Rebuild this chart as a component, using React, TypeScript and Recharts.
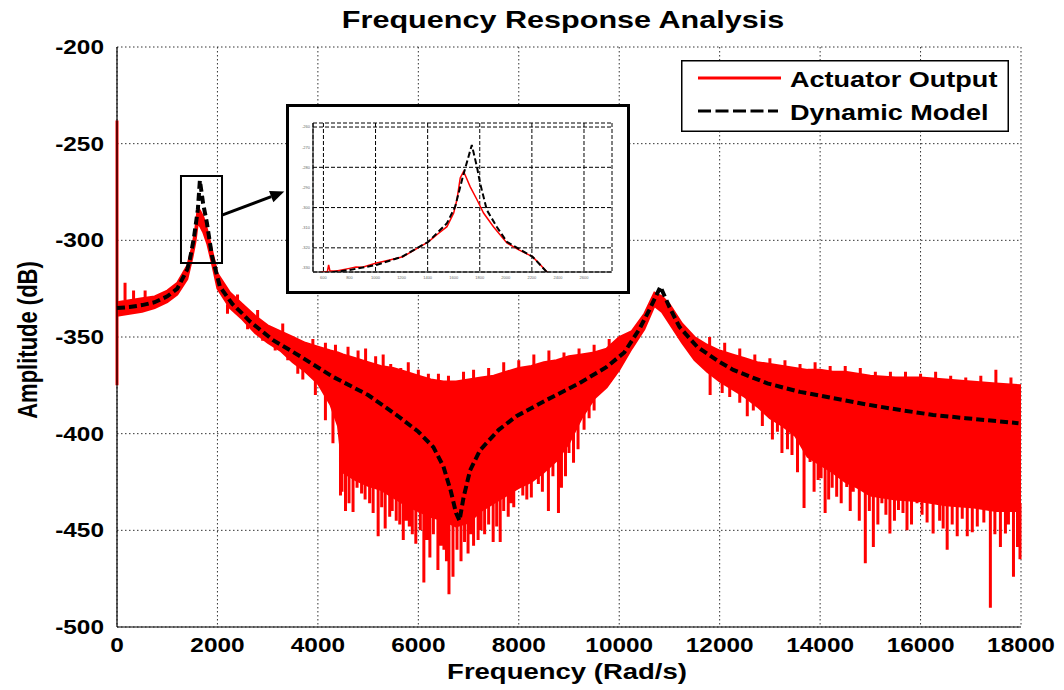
import {
  ComposedChart,
  Area,
  Line,
  XAxis,
  YAxis,
  CartesianGrid,
  ReferenceArea,
  ReferenceLine,
  Legend,
} from "recharts";

// --- Data ---

const FREQ_TICKS = [0, 2000, 4000, 6000, 8000, 10000, 12000, 14000, 16000, 18000];
const AMP_TICKS = [-500, -450, -400, -350, -300, -250, -200];

// solid part of the measured (red) response: upper / lower edge
const bandFreq = [
  0, 250, 500, 750, 1000, 1200, 1400, 1500, 1560, 1610,
  1660, 1720, 1800, 1900, 2000, 2250, 2500, 2750, 3000, 3250,
  3500, 3750, 4000, 4250, 4400, 4500, 4750, 5000, 5250, 5500,
  5750, 6000, 6250, 6500, 6750, 7000, 7250, 7500, 7750, 8000,
  8250, 8500, 8750, 9000, 9250, 9500, 9750, 10000, 10250, 10500,
  10700, 10850, 11000, 11250, 11500, 11750, 12000, 12250, 12500, 12750,
  13000, 13250, 13500, 13750, 14000, 14250, 14500, 14750, 15000, 15500,
  16000, 16500, 17000, 17500, 18000,
];
const bandHigh = [
  -332, -331, -330, -329, -326, -322, -313, -303, -294, -283,
  -285, -288, -295, -306, -317, -327, -333, -339, -344, -347,
  -350, -353, -355, -357, -358, -359, -361, -363, -365, -366,
  -368, -370, -372, -373, -373, -372, -371, -370, -368, -366,
  -365, -363, -362, -360, -359, -358, -356, -350, -347, -338,
  -327, -329, -333, -343, -350, -354, -357, -359, -361, -363,
  -364, -365, -366, -367, -367, -368, -368, -369, -370, -371,
  -371, -372, -373, -374, -375,
];
const bandLow = [
  -339, -338, -337, -335, -332, -328, -320, -309, -301, -291,
  -293, -296, -302, -313, -325, -335, -341, -348, -353, -357,
  -363, -368, -374, -385, -396, -420, -424, -427, -429, -433,
  -437, -440, -443, -445, -448, -446, -440, -436, -432, -428,
  -425, -420, -414, -405, -392, -382, -376, -367, -356, -346,
  -334, -337, -343, -353, -362, -368, -373, -377, -381, -386,
  -392, -396, -401, -412, -416, -420, -425, -428, -432, -434,
  -435, -437, -438, -440, -440,
];

// deep isolated spikes of the measured response: frequency, start, end
const spikeFreq = [
  0, 160, 330, 560,
  3700, 3950, 4150, 4300, 4450, 4550, 4700, 4870, 5030, 5200,
  5340, 5430, 5560, 5700, 5820, 5950, 6110, 6230, 6390, 6510,
  6610, 6690, 6850, 6990, 7100, 7190, 7320, 7490, 7630, 7790,
  7900, 8160, 8390, 8590, 8790, 8930, 9090, 9300, 9500,
  11810, 12200, 12670, 13240, 13440, 13680, 13800, 13960, 14100, 14240,
  14330, 14530, 14660, 14900, 15060, 15230, 15390, 15560, 15730, 15930,
  16130, 16250, 16530, 16730, 16930, 17130, 17390, 17590, 17690, 17850,
  17930,
];
const spikeTop = [
  -238, -331, -331, -330,
  -360, -362, -365, -370, -372, -380, -380, -385, -385, -390,
  -390, -392, -392, -395, -395, -398, -402, -405, -410, -415,
  -425, -430, -440, -425, -420, -412, -410, -402, -398, -395,
  -393, -388, -385, -383, -380, -378, -376, -372, -370,
  -362, -368, -372, -380, -382, -385, -385, -388, -388, -390,
  -390, -392, -392, -395, -395, -395, -396, -396, -397, -397,
  -398, -398, -399, -399, -400, -400, -400, -401, -401, -401,
  -401,
];
const spikeBottom = [
  -375, -322, -326, -326,
  -372, -380, -393, -405, -432, -440, -440.5, -431, -436, -453,
  -449, -443, -445, -455, -448, -457, -477, -464, -470.5, -460,
  -483, -474, -466, -462, -458, -455, -452, -456, -456, -443,
  -438, -434, -426, -440, -441, -422, -415, -398, -388,
  -380, -381, -388, -410, -411, -438.5, -414.6, -424, -441, -428,
  -432.6, -427.6, -430, -467, -458.6, -436, -451.6, -439.5, -450, -436,
  -446, -451.6, -460, -453, -453, -448, -490, -458.6, -451.6, -474,
  -458.6,
];

// smaller ragged noise on both edges of the band: frequency, base, tip
const noiseFreq = [
  // shoulder after the first resonance
  2200, 2400, 2600, 2800, 2900, 3150, 3300, 3400, 3600,
  // valley, upper edge
  3900, 4150, 4350, 4600, 4800, 4950, 5150, 5300, 5450, 5650,
  5800, 6000, 6200, 6400, 6600, 6900, 7100, 7400, 7700, 8000,
  8300, 8600, 8900, 9200, 9500, 9800,
  // valley, lower edge
  4480, 4620, 4780, 4940, 5100, 5270, 5480, 5630, 5760, 5880,
  6040, 6170, 6300, 6450, 6560, 6770, 6920, 7050, 7250, 7400,
  7560, 7700, 7850, 8080, 8250, 8470, 8680, 8850, 9000, 9180,
  9400,
  // high band, upper edge
  11800, 12100, 12400, 12700, 13000, 13300, 13600, 13900, 14200, 14500,
  14800, 15100, 15400, 15700, 16000, 16300, 16600, 16900, 17200, 17500,
  17800,
  // high band, lower edge
  12050, 12400, 12550, 12850, 13050, 13150, 13350, 13550, 13880, 14020,
  14170, 14420, 14600, 14780, 14980, 15150, 15310, 15480, 15650, 15820,
  16030, 16380, 16450, 16630, 16830, 17030, 17260, 17480, 17750, 17980,
];
const noiseBase = [
  -333, -333, -340, -342, -348, -350, -348, -355, -360,
  -358, -360, -361, -364, -366, -367, -369, -369, -371, -373,
  -374, -375, -377, -378, -378, -377, -376, -375, -372, -370,
  -369, -367, -366, -364, -362, -360,
  -415, -418, -420, -422, -424, -425, -428, -430, -432, -434,
  -436, -438, -440, -441, -443, -445, -444, -442, -436, -433,
  -430, -428, -426, -423, -420, -416, -410, -408, -400, -390,
  -382,
  -358, -362, -366, -368, -370, -371, -372, -372, -374, -374,
  -375, -376, -377, -378, -378, -378, -379, -380, -380, -380,
  -381,
  -370, -376, -378, -384, -388, -390, -394, -398, -408, -410,
  -412, -416, -420, -424, -427, -429, -430, -430, -430, -431,
  -431, -432, -432, -433, -433, -434, -435, -436, -436, -436,
];
const noiseTip = [
  -338, -328, -346, -336, -352, -357, -343, -362, -369,
  -351, -353, -354, -355, -357, -356, -360, -359, -364, -366,
  -363, -367, -369, -369, -370, -368, -367, -366, -363, -362,
  -359, -357, -358, -356, -354, -351,
  -430, -436, -428, -434, -441, -438, -440, -447, -445, -452,
  -450, -455, -452, -458, -466, -460, -456, -452, -450, -447,
  -448, -440, -436, -432, -433, -430, -422, -428, -410, -408,
  -392,
  -350, -353, -356, -359, -361, -362, -364, -363, -365, -365,
  -366, -368, -368, -368, -369, -368, -370, -371, -370, -367,
  -371,
  -379, -384, -391, -396, -403, -399, -408, -420, -430, -423,
  -434, -436, -440, -445, -440, -447, -442, -445, -441, -447,
  -442, -445, -449, -447, -444, -451, -446, -452, -447, -465,
];

// dynamic model (black dashed)
const modelFreq = [
  0, 250, 500, 750, 1000, 1200, 1400, 1450, 1530, 1610,
  1650, 1715, 1790, 1890, 2050, 2300, 2500, 2650, 3100, 3650,
  4300, 5000, 5600, 6000, 6300, 6500, 6650, 6750, 6820, 6900,
  7030, 7230, 7600, 7950, 8550, 9200, 9750, 10100, 10400, 10600,
  10820, 11000, 11200, 11550, 12000, 12270, 12950, 13600, 14250, 14950,
  15600, 16250, 16900, 17950,
];
const modelAmp = [
  -335, -334.5, -333.5, -332, -329, -325, -315, -310, -299, -284,
  -269, -281, -291, -308, -324, -333, -338, -342, -351.5, -360,
  -370.6, -380, -391, -399, -407, -417, -430, -441, -445, -433,
  -419, -408.5, -398, -391, -382.6, -374, -365.5, -358, -346, -336,
  -324, -334.5, -344.8, -355, -363, -367, -374, -378.4, -381.6, -385,
  -387.8, -390.3, -392, -394.6,
];

// zoomed inset around the first resonance
const INSET_X_TICKS = [600, 800, 1000, 1200, 1400, 1600, 1800, 2000, 2200, 2400, 2600];
const INSET_Y_TICKS = [-330, -320, -310, -300, -290, -280, -270, -260];
const insetActFreq = [
  520, 600, 630, 640, 650, 700, 800, 850, 900, 1000,
  1100, 1210, 1300, 1405, 1480, 1548, 1600, 1625, 1650, 1675,
  1688, 1726, 1778, 1829, 1905, 2008, 2100, 2205, 2260, 2315, 2340,
];
const insetActAmp = [
  -333, -332, -332, -328.5, -331.5, -331.5, -330.2, -329.5, -329.6, -327.7,
  -326.2, -324.4, -321, -317, -313, -309.5, -302.7, -296, -285.3, -282.2,
  -283.8, -289.6, -296, -302.7, -309.5, -317.6, -321, -324.4, -328, -332, -333,
];
const insetModelFreq = [
  600, 679, 800, 1006, 1200, 1405, 1548, 1611, 1670, 1739,
  1778, 1803, 1854, 1930, 2008, 2205, 2315, 2340,
];
const insetModelAmp = [
  -334, -332, -331, -328.5, -324.5, -317, -307.8, -299.6, -284.7, -268.9,
  -279.7, -288, -301.2, -309.5, -317, -324.4, -332, -333,
];

// --- Series tables ---

const bandData = bandFreq.map((f, i) => ({ f, range: [bandLow[i], bandHigh[i]] }));
const spikeData = [
  ...spikeFreq.flatMap((f, i) => [
    { f, spike: spikeTop[i] },
    { f, spike: spikeBottom[i] },
    { f, spike: null },
  ]),
  ...noiseFreq.flatMap((f, i) => [
    { f, spike: noiseBase[i] },
    { f, spike: noiseTip[i] },
    { f, spike: null },
  ]),
];
const modelData = modelFreq.map((f, i) => ({ f, model: modelAmp[i] }));
const insetActData = insetActFreq.map((f, i) => ({ f, act: insetActAmp[i] }));
const insetModelData = insetModelFreq.map((f, i) => ({ f, model: insetModelAmp[i] }));

const FONT = '"Liberation Sans", Arial, Helvetica, sans-serif';
const RED = "#ff0000";

// text in the reference is stretched horizontally
const XTick = ({ x, y, payload }: any) => (
  <g transform={`translate(${x},${y})`}>
    <text
      textAnchor="middle"
      dy={14.5}
      transform="scale(1.22,1)"
      fontSize={20}
      fontWeight="bold"
      fontFamily={FONT}
      fill="#000"
    >
      {payload.value}
    </text>
  </g>
);

const YTick = ({ x, y, payload }: any) => (
  <g transform={`translate(${x},${y})`}>
    <text
      textAnchor="end"
      dy={7}
      transform="scale(1.22,1)"
      fontSize={20}
      fontWeight="bold"
      fontFamily={FONT}
      fill="#000"
    >
      {payload.value}
    </text>
  </g>
);

const ArrowShape = (props: any) => {
  const { x1, y1, x2, y2 } = props;
  if ([x1, y1, x2, y2].some((v) => typeof v !== "number")) return <g />;
  const ang = Math.atan2(y2 - y1, x2 - x1);
  const len = 14;
  const hw = 6;
  const bx = x2 - len * Math.cos(ang);
  const by = y2 - len * Math.sin(ang);
  const px = -Math.sin(ang) * hw;
  const py = Math.cos(ang) * hw;
  return (
    <g>
      <line x1={x1} y1={y1} x2={bx} y2={by} stroke="#000" strokeWidth={3} />
      <polygon
        points={`${x2},${y2} ${bx + px},${by + py} ${bx - px},${by - py}`}
        fill="#000"
      />
    </g>
  );
};

const LegendBox = () => (
  <svg width={328} height={72} style={{ display: "block" }}>
    <rect x={0.75} y={0.75} width={326.5} height={70.5} fill="#fff" stroke="#000" strokeWidth={1.5} />
    <line x1={17} y1={18} x2={100} y2={18} stroke={RED} strokeWidth={3} />
    <line x1={17} y1={51} x2={97} y2={51} stroke="#000" strokeWidth={3} strokeDasharray="13 4.5" />
    <text
      x={0}
      y={0}
      transform="translate(109,26.5) scale(1.23,1)"
      fontSize={22}
      fontWeight="bold"
      fontFamily={FONT}
    >
      Actuator Output
    </text>
    <text
      x={0}
      y={0}
      transform="translate(109,60) scale(1.23,1)"
      fontSize={22}
      fontWeight="bold"
      fontFamily={FONT}
    >
      Dynamic Model
    </text>
  </svg>
);

function Inset() {
  return (
    <div
      style={{
        position: "absolute",
        left: 286,
        top: 104,
        width: 344,
        height: 190,
        boxSizing: "border-box",
        border: "3px solid #000",
        background: "#fff",
      }}
    >
      <ComposedChart
        width={338}
        height={184}
        margin={{ top: 16, right: 15, bottom: 7, left: 4 }}
      >
        <CartesianGrid stroke="#000" strokeDasharray="4 2" strokeWidth={1} />
        <XAxis
          dataKey="f"
          type="number"
          domain={[520, 2815]}
          ticks={INSET_X_TICKS}
          allowDataOverflow
          height={12}
          tickLine={false}
          tickSize={0}
          tickMargin={4}
          axisLine={{ stroke: "#000" }}
          tick={{ fontSize: 4, fill: "#666", fontFamily: FONT }}
        />
        <YAxis
          type="number"
          domain={[-332, -258]}
          ticks={INSET_Y_TICKS}
          allowDataOverflow
          width={20}
          tickLine={false}
          tickSize={0}
          tickMargin={3}
          axisLine={{ stroke: "#000" }}
          tick={{ fontSize: 4, fill: "#666", fontFamily: FONT }}
        />
        <Line
          data={insetActData}
          dataKey="act"
          type="linear"
          stroke={RED}
          strokeWidth={1.5}
          dot={false}
          activeDot={false}
          isAnimationActive={false}
        />
        <Line
          data={insetModelData}
          dataKey="model"
          type="linear"
          stroke="#000"
          strokeWidth={2}
          strokeDasharray="6 3"
          dot={false}
          activeDot={false}
          isAnimationActive={false}
        />
      </ComposedChart>
    </div>
  );
}

export default function App() {
  return (
    <div
      style={{
        position: "absolute",
        left: 0,
        top: 0,
        width: 1064,
        height: 690,
        background: "#fff",
        fontFamily: FONT,
      }}
    >
      <ComposedChart
        width={1064}
        height={690}
        margin={{ top: 47, right: 43, bottom: 23, left: 57 }}
      >
        <CartesianGrid stroke="#333" strokeDasharray="1.5 2.5" strokeWidth={1} />
        <XAxis
          dataKey="f"
          type="number"
          domain={[0, 18000]}
          ticks={FREQ_TICKS}
          height={40}
          tickLine={false}
          tickSize={0}
          tickMargin={10}
          axisLine={{ stroke: "#000", strokeWidth: 1.2 }}
          tick={<XTick />}
          interval={0}
        />
        <YAxis
          type="number"
          domain={[-500, -200]}
          ticks={AMP_TICKS}
          width={60}
          tickLine={false}
          tickSize={0}
          tickMargin={13}
          axisLine={{ stroke: "#000", strokeWidth: 1.2 }}
          tick={<YTick />}
          interval={0}
        />
        <Area
          data={bandData}
          dataKey="range"
          type="linear"
          stroke={RED}
          strokeWidth={2}
          fill={RED}
          fillOpacity={1}
          dot={false}
          activeDot={false}
          isAnimationActive={false}
        />
        <Line
          data={spikeData}
          dataKey="spike"
          type="linear"
          stroke={RED}
          strokeWidth={3}
          connectNulls={false}
          dot={false}
          activeDot={false}
          isAnimationActive={false}
        />
        <Line
          data={modelData}
          dataKey="model"
          type="linear"
          stroke="#000"
          strokeWidth={4}
          strokeDasharray="8 4"
          dot={false}
          activeDot={false}
          isAnimationActive={false}
        />
        <ReferenceArea
          x1={1274}
          x2={2091}
          y1={-311.7}
          y2={-266.7}
          fill="none"
          fillOpacity={0}
          stroke="#000"
          strokeWidth={2}
        />
        <ReferenceLine
          segment={[
            { x: 2091, y: -287 },
            { x: 3331, y: -274.8 },
          ]}
          shape={<ArrowShape />}
        />
        <Legend
          layout="vertical"
          align="center"
          verticalAlign="middle"
          wrapperStyle={{ left: 681, top: 60, width: 328, height: 72 }}
          content={() => <LegendBox />}
        />
      </ComposedChart>

      <Inset />

      <svg
        width={1064}
        height={690}
        style={{ position: "absolute", left: 0, top: 0, pointerEvents: "none" }}
      >
        <text
          transform="translate(563,28) scale(1.33,1)"
          textAnchor="middle"
          fontSize={23}
          fontWeight="bold"
          fontFamily={FONT}
        >
          Frequency Response Analysis
        </text>
        <text
          transform="translate(567,679) scale(1.25,1)"
          textAnchor="middle"
          fontSize={22}
          fontWeight="bold"
          fontFamily={FONT}
        >
          Frequency (Rad/s)
        </text>
        <text
          transform="translate(37,340) rotate(-90) scale(1,1.25)"
          textAnchor="middle"
          fontSize={22}
          fontWeight="bold"
          fontFamily={FONT}
        >
          Amplitude (dB)
        </text>
      </svg>
    </div>
  );
}
